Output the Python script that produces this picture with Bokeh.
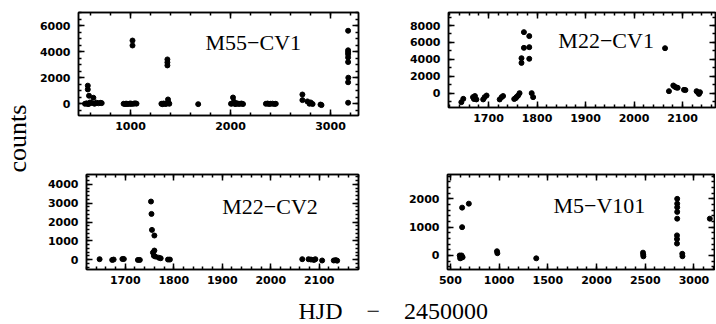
import math
from bokeh.plotting import figure
from bokeh.models import SingleIntervalTicker, LinearAxis, Range1d, CustomJSTickFormatter, Label
from bokeh.layouts import row, column
from bokeh.embed import file_html
from bokeh.resources import INLINE

# ---------------- data (HJD - 2450000, counts) ----------------
m55_x = [545, 560, 575, 585, 573, 573, 585, 595, 610, 629, 640, 660, 680, 700, 712,
         931, 945, 955, 965, 975, 990, 1000, 1010, 1020, 1020, 1030, 1045, 1060,
         1309, 1320, 1330, 1345, 1355, 1369, 1369, 1369, 1375, 1380, 1388,
         1677,
         2005, 2015, 2025, 2035, 2045, 2055, 2065, 2080, 2095, 2110, 2125,
         2354, 2370, 2385, 2400, 2420, 2440, 2453,
         2719, 2719, 2769, 2790, 2802, 2821, 2900, 2910,
         3176, 3176, 3176, 3176, 3176, 3176, 3178, 3176, 3176]
m55_y = [0, 30, -20, 0, 1390, 1100, 615, 100, 60, 460, 0, 80, 40, 70, 50,
         0, -20, 10, 0, -10, 0, 20, -10, 4850, 4470, 0, 30, 10,
         0, -30, 20, 0, -10, 3400, 3170, 2940, 330, 100, 0,
         -30,
         0, 20, 480, 150, -20, 0, 30, -10, 0, 20, -20,
         0, 20, -10, 0, 10, -20, 0,
         710, 280, 180, 0, 100, -20, -60, -100,
         5600, 4100, 3950, 3800, 3550, 3200, 2000, 1650, 80]

m22cv1_x = [1644, 1648, 1668, 1670, 1672, 1675, 1689, 1692, 1696, 1723, 1727, 1730,
            1753, 1756, 1758, 1761, 1764, 1768, 1768, 1773, 1773, 1784, 1784, 1784,
            1789, 1792, 2064, 2072, 2081, 2084, 2087, 2090, 2103, 2106, 2129, 2132,
            2134, 2136]
m22cv1_y = [-1020, -630, -430, -650, -300, -700, -700, -430, -240, -700, -430, -300,
            -650, -550, -400, -250, 40, 3600, 4150, 5370, 7220, 6750, 5450, 4080,
            40, -430, 5330, 270, 940, 800, 700, 670, 430, 400, 270, 100,
            -50, 150]

m22cv2_x = [1647, 1673, 1676, 1694, 1697, 1726, 1730, 1753, 1754, 1755, 1760, 1760,
            1757, 1759, 1762, 1769, 1773, 1788, 1792, 2065, 2078, 2083, 2089, 2092,
            2106, 2130, 2134, 2137]
m22cv2_y = [20, -20, 0, 30, 30, -20, -20, 3090, 2430, 1580, 1280, 480,
            370, 200, 160, 100, 70, 0, 0, 20, 20, 0, -20, 20,
            -50, -50, -30, -60]

m5_x = [595, 600, 605, 610, 615, 625, 620, 689, 620, 978, 982, 1381,
        2477, 2479, 2481, 2828, 2828, 2828, 2828, 2828, 2826, 2826, 2826,
        2880, 2882, 3163]
m5_y = [0, -100, -50, -80, 0, -60, 1690, 1830, 1000, 150, 80, -100,
        100, 30, -30, 2000, 1830, 1700, 1540, 1300, 710, 580, 420,
        60, -25, 1300]

names = ["M55\u2212CV1", "M22\u2212CV1", "M22\u2212CV2", "M5\u2212V101"]
x_label = "HJD\u2003\u2212\u20032450000"
y_label = "counts"

SERIF = "Liberation Serif"
TICKFONT = "DejaVu Sans"
LW = 1.5


def make_axis(interval, minor, labelled, place):
    ax = LinearAxis(ticker=SingleIntervalTicker(interval=interval, num_minor_ticks=minor))
    ax.major_tick_in = 6
    ax.major_tick_out = 0
    ax.minor_tick_in = 3
    ax.minor_tick_out = 0
    ax.axis_line_color = "black"
    ax.axis_line_width = LW
    ax.major_tick_line_color = "black"
    ax.major_tick_line_width = LW
    ax.minor_tick_line_color = "black"
    ax.minor_tick_line_width = LW
    if labelled:
        ax.major_label_text_font = TICKFONT
        ax.major_label_text_font_style = "bold"
        ax.major_label_text_font_size = "11px"
        ax.major_label_text_color = "black"
        ax.major_label_standoff = 8 if place == "left" else 6
    else:
        ax.formatter = CustomJSTickFormatter(code="return ''")
        ax.major_label_text_font_size = "0px"
        ax.major_label_standoff = 0
    return ax


def panel(xs, ys, xr, yr, xint, xmin, yint, ymin, fw, fh, bl, br, bt, bb, name, lx, ly):
    p = figure(x_range=Range1d(*xr), y_range=Range1d(*yr),
               frame_width=fw, frame_height=fh,
               min_border_left=bl, min_border_right=br,
               min_border_top=bt, min_border_bottom=bb,
               x_axis_type=None, y_axis_type=None,
               output_backend="svg", toolbar_location=None)
    p.outline_line_color = "black"
    p.outline_line_width = LW
    p.background_fill_color = "white"
    p.border_fill_color = "white"
    p.add_layout(make_axis(xint, xmin, True, "below"), "below")
    p.add_layout(make_axis(xint, xmin, False, "above"), "above")
    p.add_layout(make_axis(yint, ymin, True, "left"), "left")
    p.add_layout(make_axis(yint, ymin, False, "right"), "right")
    p.scatter(xs, ys, size=5, color="black", line_color="black")
    p.add_layout(Label(x=lx, y=ly, text=name, text_font=SERIF, text_font_size="22px",
                       text_align="left", text_baseline="alphabetic", text_color="black"))
    return p


# frames (page px): P1 77..357 x 10..113, P2 447..714 x 12..107,
#                   P3 86..358 x 173..268, P4 447..714 x 174..269
p1 = panel(m55_x, m55_y, (480, 3280), (-900, 7000), 1000, 5, 2000, 4,
           280, 103, 41, 42, 10, 47, names[0], 1750, 4700)
p2 = panel(m22cv1_x, m22cv1_y, (1617.5, 2168), (-1650, 9530), 100, 5, 2000, 2,
           267, 95, 48, 1, 12, 53, names[1], 1844, 6232)
p3 = panel(m22cv2_x, m22cv2_y, (1620, 2181), (-530, 4530), 100, 5, 1000, 5,
           272, 95, 50, 41, 13, 18, names[2], 1900, 2825)
p4 = panel(m5_x, m5_y, (470, 3211), (-495, 2860), 500, 5, 1000, 5,
           267, 95, 48, 1, 14, 17, names[3], 1558, 1765)


def title_fig(text, loc, fw, fh, size, offset, **borders):
    f = figure(frame_width=fw, frame_height=fh, min_border=0,
               x_axis_type=None, y_axis_type=None, title=text, title_location=loc,
               output_backend="svg", toolbar_location=None, **borders)
    f.outline_line_color = None
    f.background_fill_color = "white"
    f.border_fill_color = "white"
    f.grid.visible = False
    f.title.text_font = SERIF
    f.title.text_font_size = size
    f.title.text_font_style = "normal"
    f.title.text_color = "black"
    f.title.standoff = 0
    f.title.align = "left"
    f.title.offset = offset
    return f


yfig = title_fig(y_label, "left", 1, 286, "26px", 114, min_border_right=4)
xfig = title_fig(x_label, "below", 715, 1, "24px", 298, min_border_top=8)

layout = column(row(yfig, column(row(p1, p2), row(p3, p4))), xfig)

open("out.html", "w").write(file_html(layout, INLINE))
